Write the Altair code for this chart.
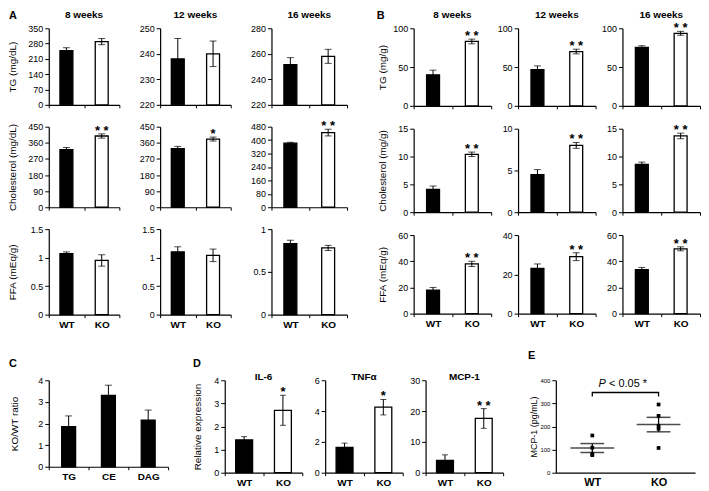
import altair as alt
import pandas as pd

FONT = "Liberation Sans"
GROUPS = ["WT", "KO"]
OPEN_GROUPS = ["KO"]
WEEKS = ["8 weeks", "12 weeks", "16 weeks"]

# ---------------- Panel A (plasma) ----------------
A_TG_WT = [248, 238, 251.5]
A_TG_WT_SE = [13, 8, 5.5]
A_TG_KO = [289, 240, 258]
A_TG_KO_SE = [14, 5, 5.5]
A_TG_SIG = ["", "", ""]
A_TG_DOMAIN = [[0, 350], [220, 250], [220, 280]]
A_TG_TICKS = [[0, 70, 140, 210, 280, 350], [220, 230, 240, 250], [220, 240, 260, 280]]

A_CH_WT = [322, 328, 382]
A_CH_WT_SE = [12, 12, 5]
A_CH_KO = [398, 381, 445]
A_CH_KO_SE = [12, 11, 20]
A_CH_SIG = ["**", "*", "**"]
A_CH_DOMAIN = [[0, 450], [0, 450], [0, 480]]
A_CH_TICKS = [[0, 90, 180, 270, 360, 450], [0, 90, 180, 270, 360, 450],
              [0, 80, 160, 240, 320, 400, 480]]

A_FFA_WT = [1.07, 1.10, 0.83]
A_FFA_WT_SE = [0.03, 0.09, 0.04]
A_FFA_KO = [0.95, 1.04, 0.78]
A_FFA_KO_SE = [0.10, 0.11, 0.03]
A_FFA_SIG = ["", "", ""]
A_FFA_DOMAIN = [[0, 1.5], [0, 1.5], [0, 1]]
A_FFA_TICKS = [[0, 0.5, 1, 1.5], [0, 0.5, 1, 1.5], [0, 0.5, 1]]

A_YTITLES = ["TG (mg/dL)", "Cholesterol (mg/dL)", "FFA (mEq/g)"]

# ---------------- Panel B (liver) ----------------
B_TG_WT = [40, 46.5, 75.5]
B_TG_WT_SE = [6, 5, 2]
B_TG_KO = [83, 70, 93.5]
B_TG_KO_SE = [3, 3, 2.5]
B_TG_SIG = ["**", "**", "**"]
B_TG_DOMAIN = [[0, 100], [0, 100], [0, 100]]
B_TG_TICKS = [[0, 50, 100], [0, 50, 100], [0, 50, 100]]

B_CH_WT = [4.1, 4.5, 8.6]
B_CH_WT_SE = [0.6, 0.6, 0.4]
B_CH_KO = [10.4, 8.0, 13.7]
B_CH_KO_SE = [0.4, 0.35, 0.5]
B_CH_SIG = ["**", "**", "**"]
B_CH_DOMAIN = [[0, 15], [0, 10], [0, 15]]
B_CH_TICKS = [[0, 5, 10, 15], [0, 5, 10], [0, 5, 10, 15]]

B_FFA_WT = [18, 23, 33.5]
B_FFA_WT_SE = [2, 2.3, 1.8]
B_FFA_KO = [38, 29, 49.5]
B_FFA_KO_SE = [2, 2, 1.5]
B_FFA_SIG = ["**", "**", "**"]
B_FFA_DOMAIN = [[0, 60], [0, 40], [0, 60]]
B_FFA_TICKS = [[0, 20, 40, 60], [0, 20, 40], [0, 20, 40, 60]]

B_YTITLES = ["TG (mg/g)", "Cholesterol (mg/g)", "FFA (mEq/g)"]

# ---------------- Panel C ----------------
C_CATS = ["TG", "CE", "DAG"]
C_RATIO = [1.85, 3.3, 2.15]
C_RATIO_SE = [0.5, 0.47, 0.47]
C_TICKS = [0, 1, 2, 3, 4]

# ---------------- Panel D ----------------
D_GENES = ["IL-6", "TNFα", "MCP-1"]
D_WT = [1.42, 1.65, 4.0]
D_WT_SE = [0.14, 0.27, 1.8]
D_KO = [2.7, 4.25, 17.6]
D_KO_SE = [0.65, 0.5, 3.2]
D_SIG = ["*", "*", "**"]
D_DOMAIN = [[0, 4], [0, 6], [0, 30]]
D_TICKS = [[0, 1, 2, 3, 4], [0, 2, 4, 6], [0, 10, 20, 30]]

# ---------------- Panel E ----------------
E_WT = [161, 108, 82, 76]
E_KO = [295, 246, 203, 190, 107]
E_TICKS = [0, 100, 200, 300, 400]
E_BRACKET_Y = [330, 347, 347, 330]
E_PTEXT_Y = 382


def text_layer(t, x, y, size=10, weight="bold", align="center", baseline="middle", style="normal"):
    return alt.Chart(pd.DataFrame({"t": [t]})).mark_text(
        font=FONT, fontSize=size, fontWeight=weight, align=align, baseline=baseline,
        fontStyle=style, color="black"
    ).encode(x=alt.value(x), y=alt.value(y), text="t:N")


def bar_panel(cats, vals, errs, sigs, open_cats, dom, ticks, w, h, bar_w, cap_w,
              ytitle=None, ext=21, tpad=10, xlabels=False, texts=()):
    df = pd.DataFrame({"cat": cats, "v": vals, "e": errs, "sig": sigs})
    base = alt.Chart(df).transform_calculate(
        lo="datum.v - datum.e", hi="datum.v + datum.e",
        star="replace(datum.sig, '**', '* *')")
    xs = alt.Scale(domain=cats, paddingInner=0, paddingOuter=0)
    xa = alt.Axis(title=None, labels=xlabels, tickBand="extent")
    ys = alt.Scale(domain=dom, nice=False, zero=False)
    akw = dict(values=ticks, format="~f", title=ytitle)
    if ytitle is not None:
        akw.update(titlePadding=tpad, minExtent=ext, maxExtent=ext)
    ya = alt.Axis(**akw)

    def X():
        return alt.X("cat:N", sort=cats, scale=xs, axis=xa)

    def Y(f):
        return alt.Y(f"{f}:Q", scale=ys, axis=ya)

    if open_cats:
        fill = alt.condition(alt.FieldOneOfPredicate(field="cat", oneOf=open_cats),
                             alt.value("white"), alt.value("black"))
    else:
        fill = alt.value("black")
    bars = base.mark_bar(size=bar_w, stroke="black", strokeWidth=1.3).encode(
        x=X(), y=Y("v"), y2=alt.datum(dom[0]), fill=fill)
    err = base.mark_rule(color="black", strokeWidth=1).encode(x=X(), y=Y("lo"), y2="hi")
    caps = base.transform_fold(["lo", "hi"], as_=["k", "end"]).mark_tick(
        orient="horizontal", size=cap_w, thickness=1, color="black").encode(x=X(), y=Y("end"))
    stars = base.mark_text(font=FONT, baseline="alphabetic", fontSize=13, fontWeight="bold",
                           dy=1, color="black").encode(x=X(), y=Y("hi"), text="star:N")
    layers = [bars, err, caps, stars] + [text_layer(**t) for t in texts]
    return alt.layer(*layers).properties(width=w, height=h)


def block(measures, ytitles, widths, heights, letter, letter_x, tpad, vspace):
    cols = []
    for j in range(3):
        charts = []
        for r, m in enumerate(measures):
            wt, wt_se, ko, ko_se, sig, dom, ticks = m
            texts = []
            if r == 0:
                texts.append(dict(t=WEEKS[j], x=widths[j] / 2, y=-13, size=10))
                if j == 0:
                    texts.append(dict(t=letter, x=letter_x, y=-12.5, size=11, align="left"))
            charts.append(bar_panel(
                GROUPS, [wt[j], ko[j]], [wt_se[j], ko_se[j]], ["", sig[j]], OPEN_GROUPS,
                dom[j], ticks[j], widths[j], heights[r], 13, 7,
                ytitle=ytitles[r] if j == 0 else None, tpad=tpad,
                xlabels=(r == len(measures) - 1), texts=texts))
        cols.append(alt.vconcat(*charts, spacing=vspace, bounds="flush"))
    return cols


A_MEAS = [
    (A_TG_WT, A_TG_WT_SE, A_TG_KO, A_TG_KO_SE, A_TG_SIG, A_TG_DOMAIN, A_TG_TICKS),
    (A_CH_WT, A_CH_WT_SE, A_CH_KO, A_CH_KO_SE, A_CH_SIG, A_CH_DOMAIN, A_CH_TICKS),
    (A_FFA_WT, A_FFA_WT_SE, A_FFA_KO, A_FFA_KO_SE, A_FFA_SIG, A_FFA_DOMAIN, A_FFA_TICKS),
]
B_MEAS = [
    (B_TG_WT, B_TG_WT_SE, B_TG_KO, B_TG_KO_SE, B_TG_SIG, B_TG_DOMAIN, B_TG_TICKS),
    (B_CH_WT, B_CH_WT_SE, B_CH_KO, B_CH_KO_SE, B_CH_SIG, B_CH_DOMAIN, B_CH_TICKS),
    (B_FFA_WT, B_FFA_WT_SE, B_FFA_KO, B_FFA_KO_SE, B_FFA_SIG, B_FFA_DOMAIN, B_FFA_TICKS),
]

a_cols = block(A_MEAS, A_YTITLES, [71, 71, 76], [77, 81, 86], "A", -40, 10, 22)
b_cols = block(B_MEAS, B_YTITLES, [78, 78, 78], [78, 84, 79], "B", -37, 5, 23)
top = alt.hconcat(alt.hconcat(*a_cols, spacing=18), alt.hconcat(*b_cols, spacing=4), spacing=29)

# Panel C
c_chart = bar_panel(C_CATS, C_RATIO, C_RATIO_SE, ["", "", ""], [], [0, 4], C_TICKS,
                    120, 87, 14, 7, ytitle="KO/WT ratio", ext=21, tpad=8, xlabels=True,
                    texts=[dict(t="C", x=-40, y=-16, size=11, align="left")])

# Panel D
d_charts = []
for i, g in enumerate(D_GENES):
    texts = [dict(t=g, x=39, y=-3.5, size=10)]
    if i == 0:
        texts.append(dict(t="D", x=-32, y=-16, size=11, align="left"))
    d_charts.append(bar_panel(
        GROUPS, [D_WT[i], D_KO[i]], [D_WT_SE[i], D_KO_SE[i]], ["", D_SIG[i]], OPEN_GROUPS,
        D_DOMAIN[i], D_TICKS[i], 78, 93, 17, 6,
        ytitle="Relative expression" if i == 0 else None, ext=14, tpad=8,
        xlabels=True, texts=texts))
d_block = alt.hconcat(*d_charts, spacing=23, bounds="flush")

# Panel E
E_W, E_H = 140, 93
e_df = pd.DataFrame({"g": ["WT"] * len(E_WT) + ["KO"] * len(E_KO), "v": E_WT + E_KO})
e_xs = alt.Scale(type="point", domain=GROUPS, padding=0.55)
e_xa = alt.Axis(title=None, ticks=False, labelFontSize=11, labelPadding=4)
e_ys = alt.Scale(domain=[0, 400], nice=False)
e_ya = alt.Axis(values=E_TICKS, format="~f", title="MCP-1 (pg/mL)", labelFontSize=6,
                titleFontSize=9, minExtent=16, maxExtent=16, titlePadding=1.5)


def EX(f):
    return alt.X(f"{f}:N", scale=e_xs, axis=e_xa)


def EY(f):
    return alt.Y(f"{f}:Q", scale=e_ys, axis=e_ya)


e_pts = alt.Chart(e_df).mark_point(shape="square", filled=True, size=14, color="black",
                                   opacity=1).encode(x=EX("g"), y=EY("v"))
e_agg = alt.Chart(e_df).transform_aggregate(
    m="mean(v)", se="stderr(v)", groupby=["g"]).transform_calculate(
    lo="datum.m - datum.se", hi="datum.m + datum.se")
e_mean = e_agg.mark_tick(orient="horizontal", size=44, thickness=1.5, color="black").encode(
    x=EX("g"), y=EY("m"))
e_rule = e_agg.mark_rule(color="black", strokeWidth=1.3).encode(x=EX("g"), y=EY("lo"), y2="hi")
e_caps = e_agg.transform_fold(["lo", "hi"], as_=["k", "end"]).mark_tick(
    orient="horizontal", size=24, thickness=1.5, color="black").encode(x=EX("g"), y=EY("end"))
br_df = pd.DataFrame({"g": ["WT", "WT", "KO", "KO"], "y": E_BRACKET_Y, "o": [0, 1, 2, 3]})
e_br = alt.Chart(br_df).mark_line(color="black", strokeWidth=1.3).encode(
    x=EX("g"), y=EY("y"), order="o:Q")
pt_df = pd.DataFrame({"y": [E_PTEXT_Y]})
e_p = alt.Chart(pt_df).mark_text(font=FONT, fontSize=11, fontStyle="italic", align="left",
                                 color="black").encode(x=alt.value(E_W / 2 - 27), y=EY("y"),
                                                      text=alt.value("P"))
e_p2 = alt.Chart(pt_df).mark_text(font=FONT, fontSize=11, align="left", color="black").encode(
    x=alt.value(E_W / 2 - 16.5), y=EY("y"), text=alt.value("< 0.05 *"))
e_chart = alt.layer(e_pts, e_mean, e_rule, e_caps, e_br, e_p, e_p2,
                    text_layer("E", -28, -24.5, size=11, align="left")).properties(
    width=E_W, height=E_H)

bottom = alt.hconcat(c_chart, d_block, e_chart, spacing=24)

chart = alt.vconcat(top, bottom, spacing=20).properties(
    padding={"left": 0, "top": 0, "right": 0, "bottom": 0}, background="white"
).configure_view(stroke=None).configure_axis(
    labelFont=FONT, titleFont=FONT, labelColor="black", titleColor="black",
    domainColor="black", tickColor="black", grid=False, labelFontSize=9,
    titleFontSize=10, titleFontWeight="normal", tickSize=4, domainWidth=1.2,
    tickWidth=1, labelPadding=2
).configure_axisX(tickSize=3, labelFontSize=10, labelFontWeight="bold", labelAngle=0,
                  labelPadding=2)

chart.save("out.html", embed_options={"renderer": "svg", "actions": False})
